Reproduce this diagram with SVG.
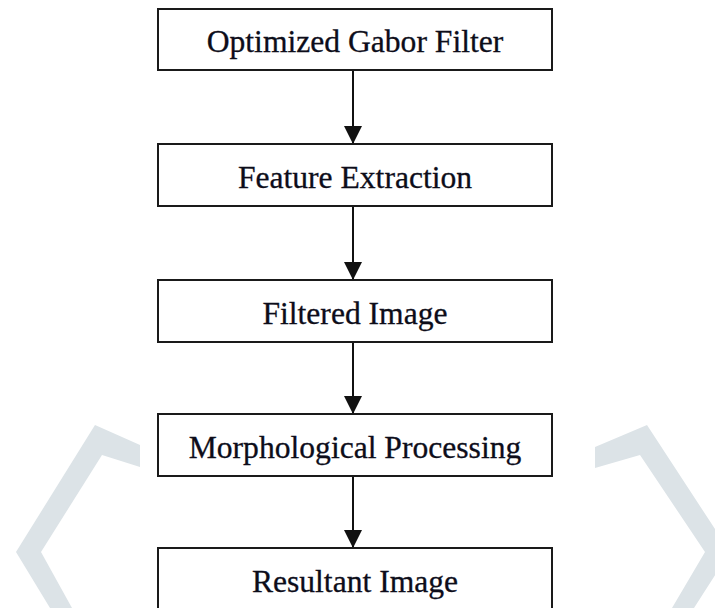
<svg xmlns="http://www.w3.org/2000/svg" width="715" height="608" viewBox="0 0 715 608">
  <style>
    .box { fill: #ffffff; stroke: #1a1a1a; stroke-width: 2; }
    .label { font-family: "Liberation Serif", "Times New Roman", serif; font-size: 31.6px; fill: #0d0d1a; stroke: #0d0d1a; stroke-width: 0.3; text-anchor: middle; }
    .link { stroke: #111111; stroke-width: 2; fill: none; marker-end: url(#arrow); }
    .mark { fill: #dce3e7; }
  </style>
  <defs>
    <marker id="arrow" markerWidth="18" markerHeight="18" refX="18" refY="9" orient="auto" markerUnits="userSpaceOnUse">
      <path d="M0,0 L18,9 L0,18 Z" fill="#111111"/>
    </marker>
  </defs>

  <!-- background chevrons -->
  <g id="decor">
    <polygon class="mark" points="140,445 95,425 16,552 50,608 72,608 41,552 102,455 140,467"/>
    <polygon class="mark" points="595,447 647,425 730,552 694,608 672,608 705,552 640,455 595,468"/>
  </g>

  <g id="connectors">
    <line class="link" x1="353" y1="70" x2="353" y2="144"/>
    <line class="link" x1="353" y1="206" x2="353" y2="280"/>
    <line class="link" x1="353" y1="342" x2="353" y2="414"/>
    <line class="link" x1="353" y1="476" x2="353" y2="548"/>
  </g>

  <g id="gabor">
    <rect class="box" x="158" y="9" width="394" height="61"/>
    <text class="label" x="355" y="52">Optimized Gabor Filter</text>
  </g>
  <g id="features">
    <rect class="box" x="158" y="144" width="394" height="62"/>
    <text class="label" x="355" y="188">Feature Extraction</text>
  </g>
  <g id="filtered">
    <rect class="box" x="158" y="280" width="394" height="62"/>
    <text class="label" x="355" y="324">Filtered Image</text>
  </g>
  <g id="morphology">
    <rect class="box" x="158" y="414" width="394" height="62"/>
    <text class="label" x="355" y="458">Morphological Processing</text>
  </g>
  <g id="result">
    <rect class="box" x="158" y="548" width="394" height="64"/>
    <text class="label" x="355" y="592">Resultant Image</text>
  </g>
</svg>
